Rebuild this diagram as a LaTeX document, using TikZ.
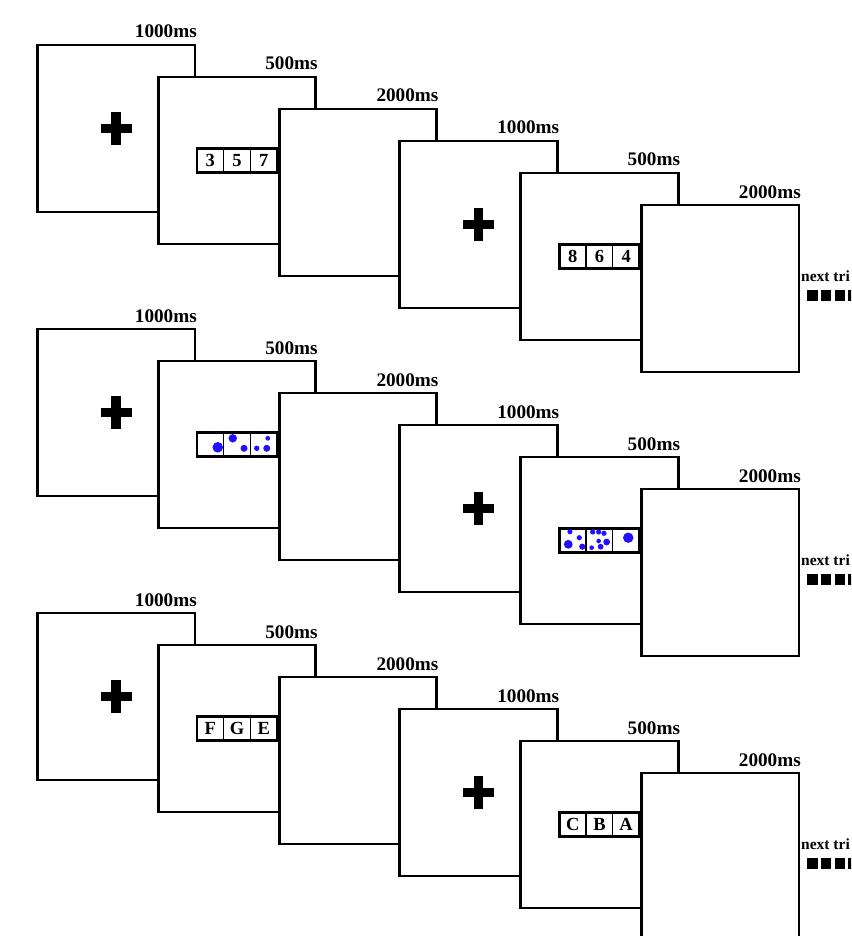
\documentclass[tikz,border=0pt]{standalone}
\usepackage{fontspec}
\setmainfont{Liberation Serif}
\definecolor{dotc}{RGB}{35,15,255}
\newcommand\dbox[6]{%
  \node[cell] (#1b) at (#2,#3) {#5};
  \node[cell,anchor=east] (#1a) at (#1b.west) {#4};
  \node[cell,anchor=west] (#1c) at (#1b.east) {#6};
  \draw[line width=2.6pt] (#1a.north west) rectangle (#1c.south east);
}
\begin{document}
\begin{tikzpicture}[x=1pt,y=-1pt,
  frame/.style={draw,line width=2.9pt,fill=white,minimum width=157.5pt,minimum height=167pt,anchor=north west,inner sep=0pt,outer sep=0pt},
  lab/.style={font=\bfseries\fontsize{19.2}{20}\selectfont,anchor=base east,inner sep=0pt},
  cell/.style={draw,line width=1.3pt,fill=white,minimum width=26.7pt,minimum height=24pt,inner sep=0pt,outer sep=0pt,font=\bfseries\fontsize{18.5}{20}\selectfont},
  nxt/.style={font=\bfseries\fontsize{15.5}{16}\selectfont,anchor=base west,inner sep=0pt},
  dot/.style={fill=dotc}]
\useasboundingbox (0,0) rectangle (851,936);
\clip (0,0) rectangle (851,936);
\foreach \r in {0,1,2} {
  \foreach \i/\t in {0/1000ms,1/500ms,2/2000ms,3/1000ms,4/500ms,5/2000ms} {
    \pgfmathsetmacro\fx{37.5+120.8*\i}
    \pgfmathsetmacro\fy{45+32*\i+284*\r}
    \pgfmathsetmacro\cx{\fx+78.75}
    \pgfmathsetmacro\cy{\fy+83.5}
    \node[frame] (f\r\i) at (\fx,\fy) {};
    \node[lab] (l\r\i) at ([xshift=2pt,yshift=7pt]f\r\i.north east) {\t};
    \ifnum\i=0 \fill (\cx-15.5,\cy-4.8) rectangle (\cx+15.5,\cy+4.8); \fill (\cx-4.8,\cy-16.5) rectangle (\cx+4.8,\cy+16.5); \fi
    \ifnum\i=3 \fill (\cx-15.5,\cy-4.8) rectangle (\cx+15.5,\cy+4.8); \fill (\cx-4.8,\cy-16.5) rectangle (\cx+4.8,\cy+16.5); \fi
    \ifnum\r=0
      \ifnum\i=1 \dbox{bx\r\i}{\cx}{\cy}{3}{5}{7} \fi
      \ifnum\i=4 \dbox{bx\r\i}{\cx}{\cy}{8}{6}{4} \fi
    \fi
    \ifnum\r=1
      \ifnum\i=1 \dbox{bx\r\i}{\cx}{\cy}{}{}{}
        \begin{scope}[shift={(\cx+1,\cy)}]
          \fill[dot] (-20.3,2.8) circle (5.3);
          \fill[dot] (-5.3,-6.2) circle (4.2);
          \fill[dot] (6,3.8) circle (3.5);
          \fill[dot] (18.7,3.8) circle (2.7);
          \fill[dot] (29.7,-6.2) circle (2.4);
          \fill[dot] (28.7,3.8) circle (3.5);
        \end{scope}
      \fi
      \ifnum\i=4 \dbox{bx\r\i}{\cx}{\cy}{}{}{}
        \begin{scope}[shift={(\cx+1,\cy)}]
          \fill[dot] (-30.5,-8.8) circle (2.6);
          \fill[dot] (-21.2,-2.8) circle (2.6);
          \fill[dot] (-32.2,3.8) circle (4.4);
          \fill[dot] (-18.2,6.2) circle (3.1);
          \fill[dot] (-7.8,-8.5) circle (2.6);
          \fill[dot] (-1.8,-8.5) circle (2.6);
          \fill[dot] (3.5,-7.2) circle (2.6);
          \fill[dot] (-1.8,0.5) circle (2.3);
          \fill[dot] (6.2,1.5) circle (3.4);
          \fill[dot] (-8.8,7.2) circle (2.3);
          \fill[dot] (0.2,6.2) circle (2.9);
          \fill[dot] (27.8,-2.8) circle (5.2);
        \end{scope}
      \fi
    \fi
    \ifnum\r=2
      \ifnum\i=1 \dbox{bx\r\i}{\cx}{\cy}{F}{G}{E} \fi
      \ifnum\i=4 \dbox{bx\r\i}{\cx}{\cy}{C}{B}{A} \fi
    \fi
  }
  \pgfmathsetmacro\ny{281+284*\r}
  \node[nxt] (nt\r) at (801,\ny) {next tri};
  \foreach \k in {0,1,2,3} {
    \fill (807+13.8*\k,\ny+9) rectangle +(10.5,11);
  }
}
\end{tikzpicture}
\end{document}
